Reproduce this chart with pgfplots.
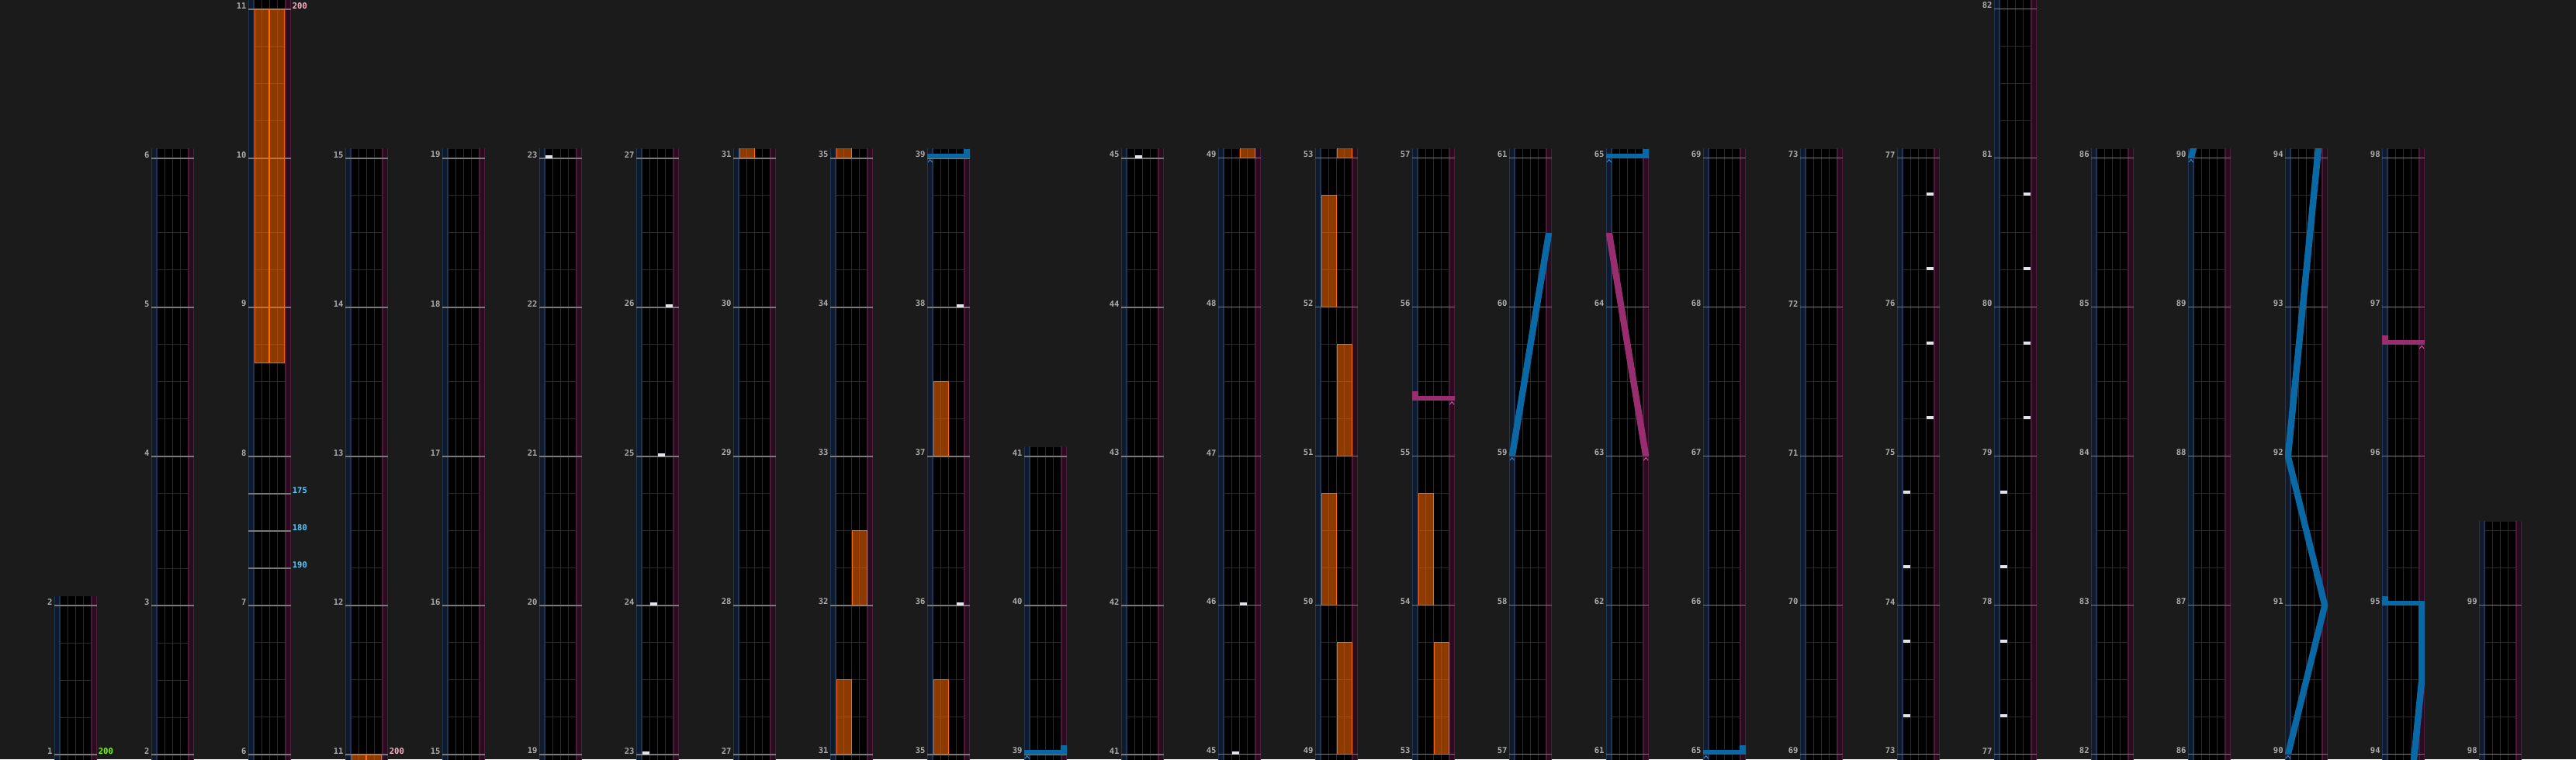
\documentclass[border=0pt]{standalone}
\usepackage{fontspec}
\setmainfont{DejaVu Sans Mono}
\usepackage{pgfplots}
\pgfplotsset{compat=1.18}

\definecolor{bgc}{HTML}{1B1B1B}
\definecolor{gridc}{HTML}{2A2A2A}
\definecolor{measc}{HTML}{7A7A7A}
\definecolor{labc}{HTML}{ABABAB}
\definecolor{bluel}{HTML}{0F1A2D}
\definecolor{blueedge}{HTML}{1F3553}
\definecolor{pinkl}{HTML}{2A0C1F}
\definecolor{pinkedge}{HTML}{4D1A3C}
\definecolor{fxc}{HTML}{FF6A00}
\definecolor{chipc}{HTML}{DFE4EA}
\definecolor{lasbc}{HTML}{0A68A4}
\definecolor{laspc}{HTML}{982E70}
\definecolor{chevbc}{HTML}{3B8FD0}
\definecolor{chevpc}{HTML}{D05FA5}
\definecolor{bpmcyan}{HTML}{5CC8FF}
\definecolor{bpmpink}{HTML}{FFB3C6}
\definecolor{bpmgreen}{HTML}{77FF11}

\newcommand{\labfont}{\fontsize{2.65pt}{3pt}\selectfont\bfseries}

\pgfplotsset{
 colstyle/.style={
  anchor=south west, x=0.25pt, y=48pt, xmin=0, xmax=55,
  axis line style={draw=none},
  axis background/.style={fill=black},
  xtick={7.5,17.5,27.5,37.5,47.5}, xticklabels={}, xmajorgrids,
  major grid style={color=gridc, line width=0.25pt},
  minor ytick={0,0.25,...,101}, yminorgrids,
  minor grid style={color=gridc, line width=0.25pt},
  major tick length=0pt, minor tick length=0pt,
  tick style={draw=none},
  yticklabel style={font=\labfont, text=labc, anchor=south east, inner sep=0pt, xshift=-0.4pt},
  /pgf/number format/assume math mode=true,
  clip=true,
 },
 measline/.style={draw=measc, line width=0.3pt},
 fxlong/.style={draw=fxc, line width=0.25pt, fill=fxc, fill opacity=0.55},
 chip/.style={draw=chipc, line width=0.95pt, yshift=0.475pt},
 lasb/.style={draw=none, fill=lasbc},
 lasp/.style={draw=none, fill=laspc},
 chevb/.style={draw=chevbc, line width=0.22pt},
 chevp/.style={draw=chevpc, line width=0.22pt},
}

% lanes of one column
\newcommand{\lanes}{%
\addplot[draw=none, fill=bluel] coordinates {(0,-1)(7.5,-1)(7.5,101)(0,101)} -- cycle;
\addplot[draw=none, fill=pinkl] coordinates {(47.5,-1)(55,-1)(55,101)(47.5,101)} -- cycle;
\addplot[draw=blueedge, line width=0.3pt] coordinates {(0.6,-1)(0.6,101)};
\addplot[draw=blueedge, line width=0.4pt] coordinates {(6.8,-1)(6.8,101)};
\addplot[draw=pinkedge, line width=0.4pt] coordinates {(48.2,-1)(48.2,101)};
\addplot[draw=pinkedge, line width=0.3pt] coordinates {(54.4,-1)(54.4,101)};
}

\newcommand{\btA}[1]{\addplot[chip] coordinates {(8.2,#1)(16.8,#1)};}
\newcommand{\btB}[1]{\addplot[chip] coordinates {(18.2,#1)(26.8,#1)};}
\newcommand{\btC}[1]{\addplot[chip] coordinates {(28.2,#1)(36.8,#1)};}
\newcommand{\btD}[1]{\addplot[chip] coordinates {(38.2,#1)(46.8,#1)};}

% all notes of the chart (measure units on y, lane pixels on x)
\newcommand{\notes}{%
% BPM change lines
\addplot[measline] coordinates {(0,7.25)(55,7.25)};
\addplot[measline] coordinates {(0,7.5)(55,7.5)};
\addplot[measline] coordinates {(0,7.75)(55,7.75)};
% FX long notes
\addplot[fxlong] coordinates {(8,8.625)(27,8.625)(27,11)(8,11)} -- cycle;
\addplot[fxlong] coordinates {(28,8.625)(47,8.625)(47,11)(28,11)} -- cycle;
\addplot[fxlong] coordinates {(8,31)(27,31)(27,31.5)(8,31.5)} -- cycle;
\addplot[fxlong] coordinates {(28,32)(47,32)(47,32.5)(28,32.5)} -- cycle;
\addplot[fxlong] coordinates {(8,35)(27,35)(27,35.5)(8,35.5)} -- cycle;
\addplot[fxlong] coordinates {(8,37)(27,37)(27,37.5)(8,37.5)} -- cycle;
\addplot[fxlong] coordinates {(28,49)(47,49)(47,49.75)(28,49.75)} -- cycle;
\addplot[fxlong] coordinates {(8,50)(27,50)(27,50.75)(8,50.75)} -- cycle;
\addplot[fxlong] coordinates {(28,51)(47,51)(47,51.75)(28,51.75)} -- cycle;
\addplot[fxlong] coordinates {(8,52)(27,52)(27,52.75)(8,52.75)} -- cycle;
\addplot[fxlong] coordinates {(28,53)(47,53)(47,53.75)(28,53.75)} -- cycle;
\addplot[fxlong] coordinates {(8,54)(27,54)(27,54.75)(8,54.75)} -- cycle;
% left (blue) laser
\addplot[lasb] coordinates {(-1,39)(56,39)(56,39.03125)(-1,39.03125)} -- cycle;
\addplot[lasb] coordinates {(47,39)(55.5,39)(55.5,39.0625)(47,39.0625)} -- cycle;
\addplot[lasb] coordinates {(-0.5,59)(8,59)(55.5,60.5)(47,60.5)} -- cycle;
\addplot[lasb] coordinates {(-1,65)(56,65)(56,65.03125)(-1,65.03125)} -- cycle;
\addplot[lasb] coordinates {(47,65)(55.5,65)(55.5,65.0625)(47,65.0625)} -- cycle;
\addplot[lasb] coordinates {(-0.5,90)(47,91)(-0.5,92)(47,94.5)(47,95)(55.5,95)(55.5,94.5)(8,92)(55.5,91)(8,90)} -- cycle;
\addplot[lasb] coordinates {(-1,95)(56,95)(56,95.03125)(-1,95.03125)} -- cycle;
\addplot[lasb] coordinates {(-0.5,95)(8,95)(8,95.0625)(-0.5,95.0625)} -- cycle;
% right (pink) laser
\addplot[lasp] coordinates {(-1,55.375)(56,55.375)(56,55.40625)(-1,55.40625)} -- cycle;
\addplot[lasp] coordinates {(-0.5,55.375)(8,55.375)(8,55.4375)(-0.5,55.4375)} -- cycle;
\addplot[lasp] coordinates {(47,63)(55.5,63)(8,64.5)(-0.5,64.5)} -- cycle;
\addplot[lasp] coordinates {(-1,96.75)(56,96.75)(56,96.78125)(-1,96.78125)} -- cycle;
\addplot[lasp] coordinates {(-0.5,96.75)(8,96.75)(8,96.8125)(-0.5,96.8125)} -- cycle;
% laser start markers
\addplot[chevb] coordinates {(0.75,38.9724)(3.75,38.9911)(6.75,38.9724)};
\addplot[chevb] coordinates {(0.75,58.9724)(3.75,58.9911)(6.75,58.9724)};
\addplot[chevb] coordinates {(0.75,64.9724)(3.75,64.9911)(6.75,64.9724)};
\addplot[chevb] coordinates {(0.75,89.9724)(3.75,89.9911)(6.75,89.9724)};
\addplot[chevp] coordinates {(48.25,55.3474)(51.25,55.3661)(54.25,55.3474)};
\addplot[chevp] coordinates {(48.25,62.9724)(51.25,62.9911)(54.25,62.9724)};
\addplot[chevp] coordinates {(48.25,96.7224)(51.25,96.7411)(54.25,96.7224)};
% BT chips
\btA{23}\btB{24}\btC{25}\btD{26}
\btD{36}\btD{38}
\btB{45}\btC{46}
\btA{73.25}\btA{73.75}\btA{74.25}\btA{74.75}
\btD{75.25}\btD{75.75}\btD{76.25}\btD{76.75}
\btA{77.25}\btA{77.75}\btA{78.25}\btA{78.75}
\btD{79.25}\btD{79.75}\btD{80.25}\btD{80.75}
}

% one column: x0 (pt), first line, last line, ymin, ymax
\newcommand{\chartcol}[5]{%
\begin{axis}[colstyle, at={(#1pt,-1.5pt)}, ymin=#4, ymax=#5, ytick={#2,...,#3}]
\lanes
\pgfplotsinvokeforeach{#2,...,#3}{\addplot[measline] coordinates {(0,##1)(55,##1)};}
\notes
\end{axis}}

% BPM label as a text mark (pixel coordinates of the whole picture)
\newcommand{\bpmlabel}[4]{%
\addplot[only marks, mark=text, text mark={#4}, text mark as node=true,
  mark options={draw=none},
  text mark style={anchor=south west, inner sep=0pt, font=\labfont, text=#3}]
  coordinates {(#1,#2)};}

\begin{document}
\begin{tikzpicture}
\useasboundingbox (0,0) rectangle (830pt,244.5pt);
\fill[bgc] (0,0) rectangle (830pt,244.5pt);
\chartcol{17.5}{1}{2}{0.9375}{2.0625}
\chartcol{48.75}{2}{6}{1.9375}{6.0625}
\chartcol{80}{6}{11}{5.9375}{11.0625}
\chartcol{111.25}{11}{15}{10.9375}{15.0625}
\chartcol{142.5}{15}{19}{14.9375}{19.0625}
\chartcol{173.75}{19}{23}{18.9375}{23.0625}
\chartcol{205}{23}{27}{22.9375}{27.0625}
\chartcol{236.25}{27}{31}{26.9375}{31.0625}
\chartcol{267.5}{31}{35}{30.9375}{35.0625}
\chartcol{298.75}{35}{39}{34.9375}{39.0625}
\chartcol{330}{39}{41}{38.9375}{41.0625}
\chartcol{361.25}{41}{45}{40.9375}{45.0625}
\chartcol{392.5}{45}{49}{44.9375}{49.0625}
\chartcol{423.75}{49}{53}{48.9375}{53.0625}
\chartcol{455}{53}{57}{52.9375}{57.0625}
\chartcol{486.25}{57}{61}{56.9375}{61.0625}
\chartcol{517.5}{61}{65}{60.9375}{65.0625}
\chartcol{548.75}{65}{69}{64.9375}{69.0625}
\chartcol{580}{69}{73}{68.9375}{73.0625}
\chartcol{611.25}{73}{77}{72.9375}{77.0625}
\chartcol{642.5}{77}{82}{76.9375}{82.0625}
\chartcol{673.75}{82}{86}{81.9375}{86.0625}
\chartcol{705}{86}{90}{85.9375}{90.0625}
\chartcol{736.25}{90}{94}{89.9375}{94.0625}
\chartcol{767.5}{94}{98}{93.9375}{98.0625}
\chartcol{798.75}{98}{99}{97.9375}{99.5625}
% BPM change labels
\begin{axis}[anchor=south west, at={(0pt,0pt)}, x=0.25pt, y=0.25pt,
  xmin=0, xmax=3320, ymin=0, ymax=978, hide axis, clip=false]
\bpmlabel{126}{6}{bpmgreen}{200}
\bpmlabel{376}{246}{bpmcyan}{190}
\bpmlabel{376}{294}{bpmcyan}{180}
\bpmlabel{376}{342}{bpmcyan}{175}
\bpmlabel{376}{966}{bpmpink}{200}
\bpmlabel{501}{6}{bpmpink}{200}
\end{axis}
\end{tikzpicture}
\end{document}
